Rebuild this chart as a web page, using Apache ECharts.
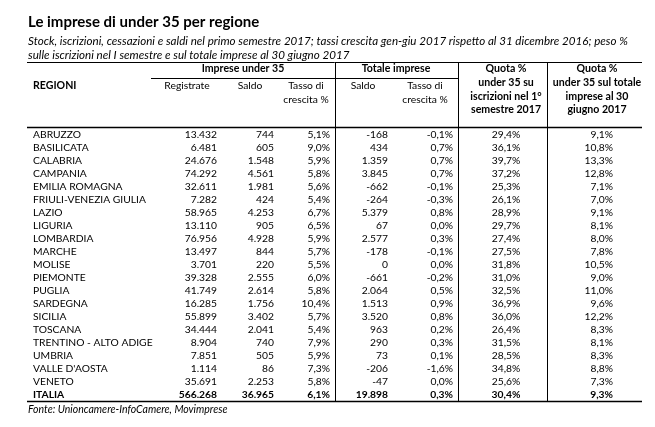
<!DOCTYPE html>
<html>
<head>
<meta charset="utf-8">
<script src="https://cdn.jsdelivr.net/npm/echarts@6/dist/echarts.min.js"></script>
<style>html,body{margin:0;padding:0;background:#fff}#c{width:655px;height:427px}</style>
</head>
<body>
<div id="c"></div>
<script>
const regions = ["ABRUZZO","BASILICATA","CALABRIA","CAMPANIA","EMILIA ROMAGNA","FRIULI-VENEZIA GIULIA","LAZIO","LIGURIA","LOMBARDIA","MARCHE","MOLISE","PIEMONTE","PUGLIA","SARDEGNA","SICILIA","TOSCANA","TRENTINO - ALTO ADIGE","UMBRIA","VALLE D'AOSTA","VENETO","ITALIA"];
const registrate = [13432,6481,24676,74292,32611,7282,58965,13110,76956,13497,3701,39328,41749,16285,55899,34444,8904,7851,1114,35691,566268];
const saldoU35 = [744,605,1548,4561,1981,424,4253,905,4928,844,220,2555,2614,1756,3402,2041,740,505,86,2253,36965];
const tassoU35 = [5.1,9.0,5.9,5.8,5.6,5.4,6.7,6.5,5.9,5.7,5.5,6.0,5.8,10.4,5.7,5.4,7.9,5.9,7.3,5.8,6.1];
const saldoTot = [-168,434,1359,3845,-662,-264,5379,67,2577,-178,0,-661,2064,1513,3520,963,290,73,-206,-47,19898];
const tassoTot = [-0.1,0.7,0.7,0.7,-0.1,-0.3,0.8,0.0,0.3,-0.1,0.0,-0.2,0.5,0.9,0.8,0.2,0.3,0.1,-1.6,0.0,0.3];
const quotaIscr = [29.4,36.1,39.7,37.2,25.3,26.1,28.9,29.7,27.4,27.5,31.8,31.0,32.5,36.9,36.0,26.4,31.5,28.5,34.8,25.6,30.4];
const quotaTot = [9.1,10.8,13.3,12.8,7.1,7.0,9.1,8.1,8.0,7.8,10.5,9.0,11.0,9.6,12.2,8.3,8.1,8.3,8.8,7.3,9.3];

const titleText = "Le imprese di under 35 per regione";
const subtitle1 = "Stock, iscrizioni, cessazioni e saldi nel primo semestre 2017; tassi crescita gen-giu 2017 rispetto al 31 dicembre 2016; peso %";
const subtitle2 = "sulle iscrizioni nel I semestre e sul totale imprese al 30 giugno 2017";
const sourceText = "Fonte: Unioncamere-InfoCamere, Movimprese";

const FONT = "Lato";
function fmtInt(v){
  const s = Math.abs(v).toString().replace(/\B(?=(\d{3})+(?!\d))/g, ".");
  return (v < 0 ? "-" : "") + s;
}
function fmtPct(v){
  return (v < 0 ? "-" : "") + Math.abs(v).toFixed(1).replace(".", ",") + "%";
}

const chart = echarts.init(document.getElementById('c'), null, {renderer:'canvas'});

const cols = [
  {x:33, align:'left', get:i=>regions[i]},
  {x:217, align:'right', get:i=>fmtInt(registrate[i])},
  {x:274, align:'right', get:i=>fmtInt(saldoU35[i])},
  {x:330, align:'right', get:i=>fmtPct(tassoU35[i])},
  {x:388, align:'right', get:i=>fmtInt(saldoTot[i])},
  {x:453, align:'right', get:i=>fmtPct(tassoTot[i])},
  {x:506, align:'center', get:i=>fmtPct(quotaIscr[i])},
  {x:613, align:'right', get:i=>fmtPct(quotaTot[i])}
];

function txt(x, y, text, opts){
  opts = opts || {};
  return {type:'text', silent:true, style:{x:x, y:y, text:text, fill:'#000',
    font:(opts.italic?'italic ':'') + (opts.bold?'bold ':'') + (opts.size||10.3) + 'px ' + FONT,
    textAlign:opts.align||'left', textVerticalAlign:'middle'}};
}
function line(x1,y1,x2,y2,w){
  return {type:'line', silent:true, shape:{x1:x1,y1:y1,x2:x2,y2:y2}, style:{stroke:'#000', lineWidth:w||1}};
}

const B = {bold:true, align:'center', size:10.6};
const graphics = [
  txt(28, 22, titleText, {bold:true, size:15}),
  txt(28, 41, subtitle1, {italic:true, size:11.6}),
  txt(28, 55, subtitle2, {italic:true, size:11.6}),
  txt(28, 410, sourceText, {italic:true, size:10.5}),
  line(27, 62.5, 642, 62.5, 1),
  line(151, 78.5, 458, 78.5, 1),
  line(27, 127.5, 642, 127.5, 1.5),
  line(27, 401.5, 642, 401.5, 1.5),
  line(335.5, 62, 335.5, 402, 1),
  line(458.5, 62, 458.5, 402, 1),
  line(547.5, 62, 547.5, 402, 1),
  txt(243, 69, "Imprese under 35", B),
  txt(396, 69, "Totale imprese", B),
  txt(33, 86, "REGIONI", {bold:true, size:10.6}),
  txt(187, 86, "Registrate", {align:'center'}),
  txt(250, 86, "Saldo", {align:'center'}),
  txt(306, 86, "Tasso di", {align:'center'}),
  txt(306, 100, "crescita %", {align:'center'}),
  txt(363, 86, "Saldo", {align:'center'}),
  txt(425, 86, "Tasso di", {align:'center'}),
  txt(425, 100, "crescita %", {align:'center'}),
  txt(506, 69, "Quota %", B),
  txt(506, 83, "under 35 su", B),
  txt(506, 96.5, "iscrizioni nel 1°", B),
  txt(506, 110, "semestre 2017", B),
  txt(597, 69, "Quota %", B),
  txt(597, 83, "under 35 sul totale", B),
  txt(597, 96.5, "imprese al 30", B),
  txt(597, 110, "giugno 2017", B)
];

chart.setOption({
  animation:false,
  backgroundColor:'#fff',
  grid:{left:0, right:0, top:128, height:273, containLabel:false},
  xAxis:{type:'value', min:0, max:655, show:false},
  yAxis:{type:'category', data:regions, inverse:true, show:false},
  graphic:graphics,
  series:[{
    type:'custom',
    data:regions.map((r,i)=>[0,i]),
    encode:{x:0, y:1},
    renderItem:function(params, api){
      const i = api.value(1);
      const bold = (regions[i] === "ITALIA");
      const children = cols.map(c=>{
        const p = api.coord([c.x, i]);
        return {type:'text', style:{x:p[0], y:p[1], text:c.get(i), fill:'#000',
          font:(bold?'bold ':'') + '10.3px ' + FONT, textAlign:c.align, textVerticalAlign:'middle'}};
      });
      return {type:'group', children:children};
    }
  }]
});
</script>
</body>
</html>
